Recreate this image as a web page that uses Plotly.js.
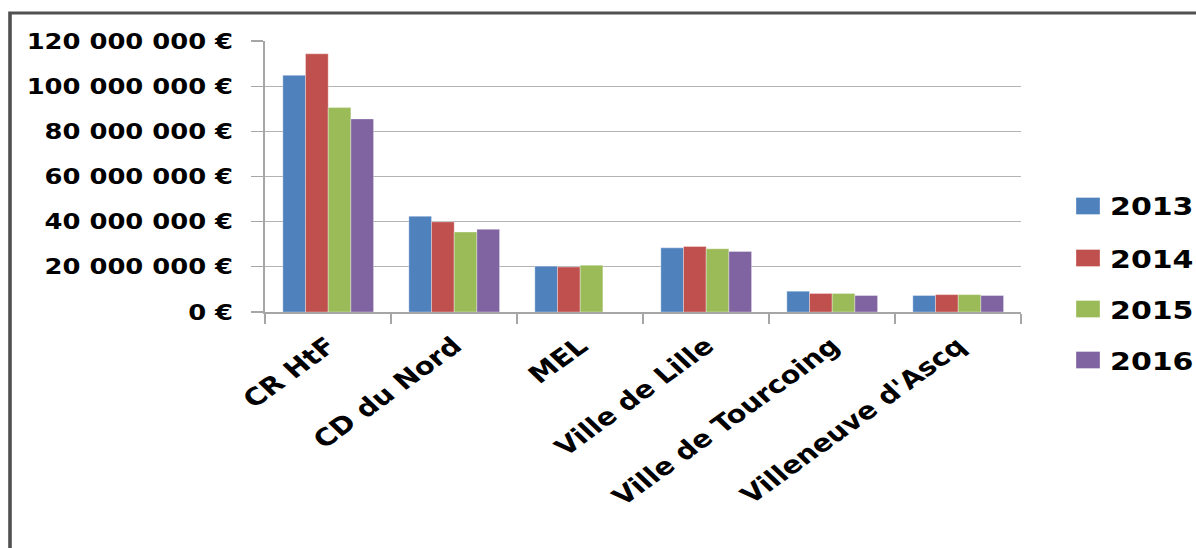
<!DOCTYPE html>
<html>
<head>
<meta charset="utf-8">
<script src="https://cdn.plot.ly/plotly-3.0.1.min.js"></script>
<style>
html,body{margin:0;padding:0;background:#fff;overflow:hidden;width:1196px;height:548px;}
#chart{transform-origin:0 0;}
</style>
</head>
<body>
<div id="chart"></div>
<script>
var categories = ["CR HtF", "CD du Nord", "MEL", "Ville de Lille", "Ville de Tourcoing", "Villeneuve d'Ascq"];
var years = ["2013", "2014", "2015", "2016"];
var v2013 = [104800000, 42400000, 20300000, 28400000, 9200000, 7300000];
var v2014 = [114300000, 39900000, 19900000, 29000000, 8200000, 7700000];
var v2015 = [90500000, 35400000, 20700000, 28000000, 8200000, 7700000];
var v2016 = [85500000, 36600000, null, 26800000, 7300000, 7300000];
var seriesValues = [v2013, v2014, v2015, v2016];
var colors = ["#4F81BD", "#C0504D", "#9BBB59", "#8064A2"];

// the reference picture is horizontally stretched; emulate with a scaleX
var S = 1.2;
var W = Math.round(1196 / S), H = 548;
var mL = Math.round(265 / S), mT = 41, mB = 236;
var mR = W - Math.round(1021 / S);
var pw = W - mL - mR, ph = H - mT - mB;
function px2x(px) { return (px / S - mL) / pw; }
function py2y(py) { return (H - mB - py) / ph; }

var chartDiv = document.getElementById("chart");
chartDiv.style.width = W + "px";
chartDiv.style.height = H + "px";
chartDiv.style.transform = "scale(" + S + ",1)";

var FONT = "DejaVu Sans, Verdana, sans-serif";

var traces = years.map(function (yr, i) {
  return {
    type: "bar",
    name: yr,
    x: categories,
    y: seriesValues[i],
    marker: { color: colors[i], line: { color: "rgba(255,255,255,0.5)", width: 0.6 } },
    showlegend: false,
    hoverinfo: "x+y+name"
  };
});

var shapes = [];
var annotations = [];
// outer chart border
shapes.push({
  type: "rect", xref: "paper", yref: "paper",
  x0: px2x(10), x1: px2x(1240), y0: py2y(600), y1: py2y(13),
  line: { color: "#505050", width: 3 }, fillcolor: "rgba(0,0,0,0)", layer: "below"
});
// custom legend
var legendCenters = [206, 258, 309, 360];
years.forEach(function (yr, i) {
  var cy = legendCenters[i];
  shapes.push({
    type: "rect", xref: "paper", yref: "paper",
    x0: px2x(1076), x1: px2x(1100), y0: py2y(cy + 8.5), y1: py2y(cy - 8.5),
    fillcolor: colors[i], line: { color: "rgba(255,255,255,0.5)", width: 0.6 }
  });
  annotations.push({
    xref: "paper", yref: "paper", x: px2x(1108), y: py2y(cy + 1),
    xanchor: "left", yanchor: "middle", showarrow: false,
    text: "<b>" + yr + "</b>",
    font: { family: FONT, size: 25, color: "#000" }
  });
});

var layout = {
  width: W, height: H,
  margin: { l: mL, r: mR, t: mT, b: mB, pad: 0 },
  paper_bgcolor: "#ffffff",
  plot_bgcolor: "#ffffff",
  separators: ", ",
  barmode: "group",
  bargap: 0.28,
  bargroupgap: 0,
  showlegend: false,
  font: { family: FONT, color: "#000" },
  xaxis: {
    type: "category",
    tickangle: -41,
    tickson: "boundaries",
    ticks: "outside",
    ticklen: 10,
    tickcolor: "#A6A6A6",
    tickwidth: 1.2,
    ticklabelstandoff: 9,
    showline: true,
    linecolor: "#A6A6A6",
    linewidth: 1.5,
    showgrid: false,
    tickfont: { family: FONT, size: 24, color: "#000", weight: "bold" },
    fixedrange: true
  },
  yaxis: {
    range: [0, 120000000],
    dtick: 20000000,
    tick0: 0,
    tickformat: ",.0f",
    ticksuffix: " €",
    ticks: "outside",
    ticklen: 10,
    tickcolor: "#A6A6A6",
    tickwidth: 1.2,
    ticklabelstandoff: 11,
    showline: true,
    linecolor: "#A6A6A6",
    linewidth: 1.5,
    showgrid: true,
    gridcolor: "#B3B3B3",
    gridwidth: 1.3,
    zeroline: false,
    tickfont: { family: FONT, size: 21.5, color: "#000", weight: "bold" },
    fixedrange: true
  },
  shapes: shapes,
  annotations: annotations
};

Plotly.newPlot("chart", traces, layout, { displayModeBar: false, staticPlot: true });
</script>
</body>
</html>
